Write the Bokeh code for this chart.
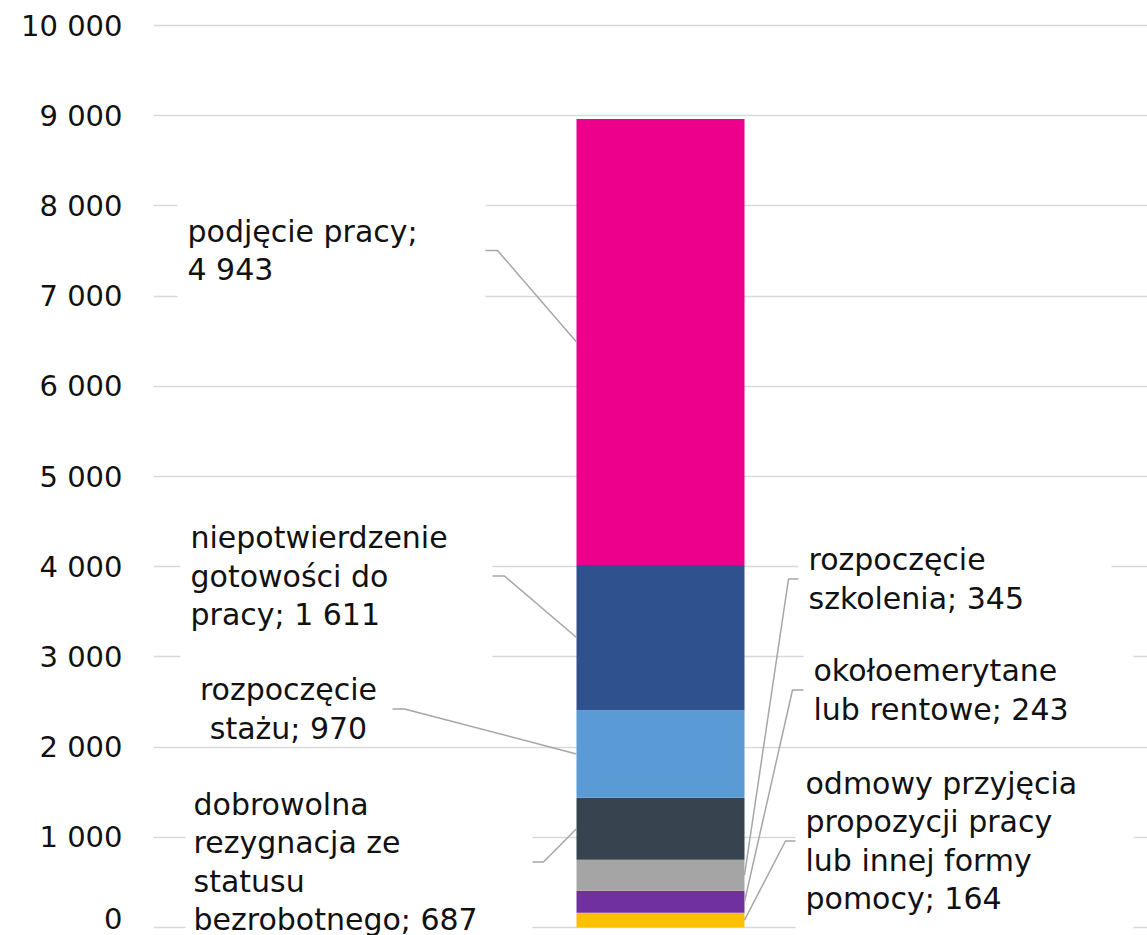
import numpy as np
from bokeh.plotting import figure
from bokeh.models import Range1d, FixedTicker, Label
from bokeh.embed import file_html
from bokeh.resources import INLINE

# ---------------- data ----------------
categories = [
    "odmowy przyjęcia propozycji pracy lub innej formy pomocy",
    "okołoemerytane lub rentowe",
    "rozpoczęcie szkolenia",
    "dobrowolna rezygnacja ze statusu bezrobotnego",
    "rozpoczęcie stażu",
    "niepotwierdzenie gotowości do pracy",
    "podjęcie pracy",
]
values = [164, 243, 345, 687, 970, 1611, 4943]
label_names = [
    "odmowy przyjęcia\npropozycji pracy\nlub innej formy\npomocy; ",
    "okołoemerytane\nlub rentowe; ",
    "rozpoczęcie\nszkolenia; ",
    "dobrowolna\nrezygnacja ze\nstatusu\nbezrobotnego; ",
    "rozpoczęcie\nstażu; ",
    "niepotwierdzenie\ngotowości do\npracy; ",
    "podjęcie pracy;\n",
]
colors = ["#FFC000", "#7030A0", "#A5A5A5", "#37444F", "#5B9BD5", "#2F528F", "#EC008C"]
tick_values = [0, 1000, 2000, 3000, 4000, 5000, 6000, 7000, 8000, 9000, 10000]
tick_labels = ["0", "1 000", "2 000", "3 000", "4 000", "5 000", "6 000",
               "7 000", "8 000", "9 000", "10 000"]

# ---------------- layout helpers (page pixels -> data) ----------------
BAR_LEFT_PX, BAR_W_PX = 576, 168
Y0_PX, Y10K_PX = 927, 25
FRAME_L, FRAME_R, FRAME_T, FRAME_B = 153, 1147, 15, 935


def xd(px):
    return (px - BAR_LEFT_PX) / BAR_W_PX - 0.5


def yd(py):
    return (Y0_PX - py) * 10000.0 / (Y0_PX - Y10K_PX)


FONT = "DejaVu Sans"
TICK_SIZE = "29px"
LBL_SIZE = "30px"

p = figure(width=1147, height=935, output_backend="svg", toolbar_location=None,
           x_range=Range1d(xd(FRAME_L), xd(FRAME_R)),
           y_range=Range1d(yd(FRAME_B), yd(FRAME_T)),
           x_axis_location=None, min_border_left=FRAME_L, min_border_right=0,
           min_border_top=FRAME_T, min_border_bottom=0)
p.outline_line_color = None
p.xgrid.visible = False
p.ygrid.grid_line_color = "#D9D9D9"
p.ygrid.grid_line_width = 1.5
p.yaxis.ticker = FixedTicker(ticks=tick_values)
p.yaxis.major_label_overrides = {t: l for t, l in zip(tick_values, tick_labels)}
p.yaxis.axis_line_color = None
p.yaxis.major_tick_line_color = None
p.yaxis.minor_tick_line_color = None
p.yaxis.major_tick_in = 0
p.yaxis.major_tick_out = 0
p.yaxis.major_label_standoff = 31
p.yaxis.major_label_text_font = FONT
p.yaxis.major_label_text_font_size = TICK_SIZE
p.yaxis.major_label_text_color = "#111111"

vals = np.array(values, dtype=float)
tops = np.cumsum(vals)
bottoms = tops - vals
mids = (tops + bottoms) / 2

p.vbar(x=[0] * len(vals), width=1.0, bottom=bottoms, top=tops,
       fill_color=colors, line_color=None)

# label layout: (text_x_px, center_y_px, align, box[l, r, t, b] px, leader start px, side)
layout = [
    (805, 840.5, "left", (795, 1133, 762, 940), (795, 785), "right"),
    (813, 689.5, "left", (803, 1133, 652, 728), (803, 792), "right"),
    (808, 578.5, "left", (798, 1111, 540, 614), (798, 788), "right"),
    (193, 861.5, "left", (185, 532, 780, 940), (532, 543), "left"),
    (288, 708.5, "center", (185, 392, 664, 742), (392, 404), "left"),
    (190, 575.5, "left", (180, 492, 515, 662), (492, 504), "left"),
    (187, 250.0, "left", (177, 485, 200, 302), (485, 497), "left"),
]

# white label boxes
p.quad(left=[xd(b[3][0]) for b in layout], right=[xd(b[3][1]) for b in layout],
       top=[yd(b[3][2]) for b in layout], bottom=[yd(b[3][3]) for b in layout],
       fill_color="white", line_color=None)

# leader lines
xs, ys = [], []
for (tx, cy, al, box, (sx, kx), side), m in zip(layout, mids):
    edge = 0.5 if side == "right" else -0.5
    xs.append([xd(sx), xd(kx), edge])
    ys.append([yd(cy), yd(cy), m])
p.multi_line(xs=xs, ys=ys, line_color="#A6A6A6", line_width=1.5)

for (tx, cy, al, box, lead, side), name, v in zip(layout, label_names, values):
    txt = name + f"{v:,}".replace(",", " ")
    p.add_layout(Label(x=xd(tx), y=yd(cy), text=txt, text_align=al,
                       text_baseline="middle", text_font=FONT,
                       text_font_size=LBL_SIZE, text_color="#111111",
                       text_line_height=1.1))

open("out.html", "w").write(file_html(p, INLINE))
